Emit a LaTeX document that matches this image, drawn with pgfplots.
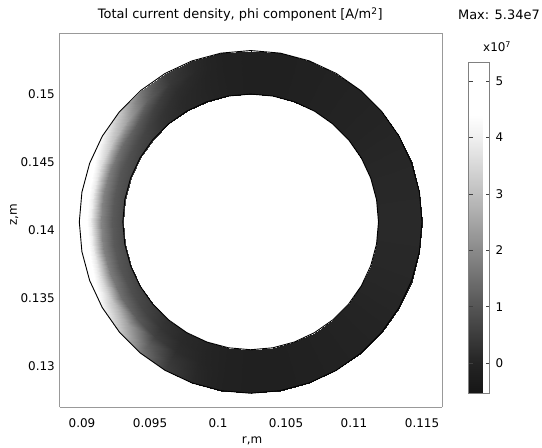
\documentclass[border=0pt]{standalone}
\usepackage{pgfplots}
\usepackage{pgfplotstable}
\usepackage{fontspec}
\setmainfont{DejaVu Sans}
\pgfplotsset{compat=1.18}

% ring field, polar samples: radius [m], angle [deg], J_phi [1e7 A/m^2]
\pgfplotstableread{
r t v
0.0126 0 0.1
0.0126 10 0.09
0.0126 20 0.07
0.0126 30 0.04
0.0126 40 0.0
0.0126 50 -0.04
0.0126 60 -0.08
0.0126 70 -0.12
0.0126 80 -0.15
0.0126 90 -0.15
0.0126 100 -0.1
0.0126 110 0.11
0.0126 120 0.53
0.0126 130 1.60
0.0126 140 3.20
0.0126 150 4.17
0.0126 160 4.91
0.0126 170 5.23
0.0126 180 5.34
0.0126 190 5.23
0.0126 200 4.91
0.0126 210 4.17
0.0126 220 3.20
0.0126 230 1.60
0.0126 240 0.53
0.0126 250 0.11
0.0126 260 -0.1
0.0126 270 -0.15
0.0126 280 -0.15
0.0126 290 -0.12
0.0126 300 -0.08
0.0126 310 -0.04
0.0126 320 0.0
0.0126 330 0.04
0.0126 340 0.07
0.0126 350 0.09
0.0126 360 0.1
0.0118 0 0.1
0.0118 10 0.09
0.0118 20 0.07
0.0118 30 0.04
0.0118 40 0.0
0.0118 50 -0.04
0.0118 60 -0.08
0.0118 70 -0.12
0.0118 80 -0.15
0.0118 90 -0.15
0.0118 100 -0.1
0.0118 110 0.08
0.0118 120 0.40
0.0118 130 1.20
0.0118 140 2.40
0.0118 150 3.12
0.0118 160 3.68
0.0118 170 3.92
0.0118 180 4.00
0.0118 190 3.92
0.0118 200 3.68
0.0118 210 3.12
0.0118 220 2.40
0.0118 230 1.20
0.0118 240 0.40
0.0118 250 0.08
0.0118 260 -0.1
0.0118 270 -0.15
0.0118 280 -0.15
0.0118 290 -0.12
0.0118 300 -0.08
0.0118 310 -0.04
0.0118 320 0.0
0.0118 330 0.04
0.0118 340 0.07
0.0118 350 0.09
0.0118 360 0.1
0.0110 0 0.1
0.0110 10 0.09
0.0110 20 0.07
0.0110 30 0.04
0.0110 40 0.0
0.0110 50 -0.04
0.0110 60 -0.08
0.0110 70 -0.12
0.0110 80 -0.15
0.0110 90 -0.15
0.0110 100 -0.1
0.0110 110 0.04
0.0110 120 0.19
0.0110 130 0.57
0.0110 140 1.14
0.0110 150 1.48
0.0110 160 1.75
0.0110 170 1.86
0.0110 180 1.90
0.0110 190 1.86
0.0110 200 1.75
0.0110 210 1.48
0.0110 220 1.14
0.0110 230 0.57
0.0110 240 0.19
0.0110 250 0.04
0.0110 260 -0.1
0.0110 270 -0.15
0.0110 280 -0.15
0.0110 290 -0.12
0.0110 300 -0.08
0.0110 310 -0.04
0.0110 320 0.0
0.0110 330 0.04
0.0110 340 0.07
0.0110 350 0.09
0.0110 360 0.1
0.0102 0 0.1
0.0102 10 0.09
0.0102 20 0.07
0.0102 30 0.04
0.0102 40 0.0
0.0102 50 -0.04
0.0102 60 -0.08
0.0102 70 -0.12
0.0102 80 -0.15
0.0102 90 -0.15
0.0102 100 -0.1
0.0102 110 0.02
0.0102 120 0.11
0.0102 130 0.33
0.0102 140 0.66
0.0102 150 0.86
0.0102 160 1.01
0.0102 170 1.08
0.0102 180 1.10
0.0102 190 1.08
0.0102 200 1.01
0.0102 210 0.86
0.0102 220 0.66
0.0102 230 0.33
0.0102 240 0.11
0.0102 250 0.02
0.0102 260 -0.1
0.0102 270 -0.15
0.0102 280 -0.15
0.0102 290 -0.12
0.0102 300 -0.08
0.0102 310 -0.04
0.0102 320 0.0
0.0102 330 0.04
0.0102 340 0.07
0.0102 350 0.09
0.0102 360 0.1
0.0094 0 0.1
0.0094 10 0.09
0.0094 20 0.07
0.0094 30 0.04
0.0094 40 0.0
0.0094 50 -0.04
0.0094 60 -0.08
0.0094 70 -0.12
0.0094 80 -0.15
0.0094 90 -0.15
0.0094 100 -0.1
0.0094 110 0.02
0.0094 120 0.08
0.0094 130 0.24
0.0094 140 0.48
0.0094 150 0.62
0.0094 160 0.74
0.0094 170 0.78
0.0094 180 0.80
0.0094 190 0.78
0.0094 200 0.74
0.0094 210 0.62
0.0094 220 0.48
0.0094 230 0.24
0.0094 240 0.08
0.0094 250 0.02
0.0094 260 -0.1
0.0094 270 -0.15
0.0094 280 -0.15
0.0094 290 -0.12
0.0094 300 -0.08
0.0094 310 -0.04
0.0094 320 0.0
0.0094 330 0.04
0.0094 340 0.07
0.0094 350 0.09
0.0094 360 0.1
}\ring

\begin{document}
\begin{tikzpicture}[font=\fontsize{12}{14}\selectfont]
\useasboundingbox (-60bp,-41bp) rectangle (482bp,407bp);
\begin{axis}[
    at={(0,0)}, anchor=south west,
    scale only axis, width=382bp, height=374bp,
    view={0}{90},
    clip=false,
    xmin=0.08838, xmax=0.11647,
    ymin=0.12699, ymax=0.15449,
    zmin=-1, zmax=6,
    xtick={0.09,0.095,0.1,0.105,0.11,0.115},
    xticklabels={0.09,0.095,0.1,0.105,0.11,0.115},
    ytick={0.13,0.135,0.14,0.145,0.15},
    yticklabels={0.13,0.135,0.14,0.145,0.15},
    ztick=\empty,
    major tick length=0pt,
    every tick label/.append style={inner sep=0pt},
    xticklabel shift=11.5bp,
    yticklabel shift=5bp,
    axis line style={draw=black!40, line width=1bp},
    title={Total current density, phi component [A/m\textsuperscript{2}]},
    every axis title/.style={at={(axis description cs:0.472,1.0388)}, anchor=base,
        font=\fontsize{13}{15}\selectfont},
    xlabel={r,m},
    every axis x label/.style={at={(axis description cs:0.503,-0.0963)}, anchor=base},
    ylabel={z,m},
    every axis y label/.style={at={(axis description cs:-0.1126,0.513)}, rotate=90, anchor=base},
    colormap={cg}{rgb255(0pt)=(22,22,22); rgb255(53pt)=(36,36,36);
        rgb255(153pt)=(85,85,85); rgb255(253pt)=(138,138,138);
        rgb255(353pt)=(191,191,191); rgb255(453pt)=(240,240,240);
        rgb255(493pt)=(255,255,255); rgb255(587pt)=(255,255,255)},
    point meta min=-0.53, point meta max=5.34,
    colorbar,
    colorbar style={
        at={(parent axis.north east)}, anchor=north west,
        xshift=18bp, yshift=-29bp,
        scale only axis, width=21bp, height=331bp,
        ytick={0,1,2,3,4,5}, yticklabels={0,1,2,3,4,5},
        ytick pos=both, yticklabel pos=right,
        tick align=inside, major tick length=4bp,
        ytick style={draw=black!75, line width=0.7bp},
        yticklabel shift=6bp,
        axis line style={draw=black!50, line width=0.8bp},
    },
]
\addplot3[surf, shader=interp, mesh/rows=5, mesh/cols=37,
    point meta=\thisrow{v}]
    table[x expr=0.1024+\thisrow{r}*cos(\thisrow{t}),
          y expr=0.1406+\thisrow{r}*sin(\thisrow{t}), z=v] {\ring};
% outer and inner boundary
\addplot3[black, line width=0.9bp, no marks, skip coords between index={37}{185}]
    table[x expr=0.1024+\thisrow{r}*cos(\thisrow{t}),
          y expr=0.1406+\thisrow{r}*sin(\thisrow{t}), z=v] {\ring};
\addplot3[black, line width=0.9bp, no marks, skip coords between index={0}{148}]
    table[x expr=0.1024+\thisrow{r}*cos(\thisrow{t}),
          y expr=0.1406+\thisrow{r}*sin(\thisrow{t}), z=v] {\ring};
\node[anchor=east, inner sep=0pt, font=\fontsize{13}{15}\selectfont]
    at (axis description cs:1.2565,1.0481) {Max: 5.34e7};
\node[anchor=base west, inner sep=0pt] at (axis description cs:1.1073,0.9492) {x10\textsuperscript{7}};
\end{axis}
\end{tikzpicture}
\end{document}
